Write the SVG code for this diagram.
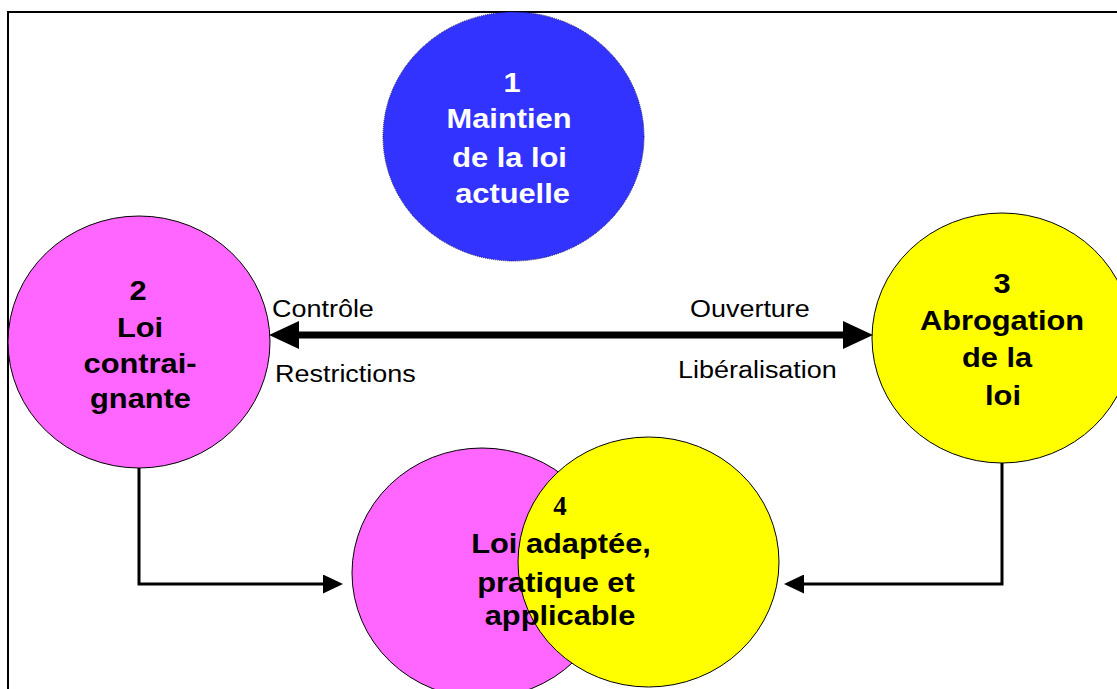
<svg xmlns="http://www.w3.org/2000/svg" width="1117" height="689" viewBox="0 0 1117 689">
<style>
.bold{font-family:"Liberation Sans",Arial,sans-serif;font-weight:bold;font-size:28px;text-anchor:middle}
.reg{font-family:"Liberation Sans",Arial,sans-serif;font-size:24.5px}
.w{fill:#ffffff}
.k{fill:#000000}
.node{stroke:#000;stroke-width:1}
</style>
<defs>
<marker id="bigHead" markerUnits="userSpaceOnUse" markerWidth="30" markerHeight="28" refX="0" refY="14" orient="auto-start-reverse" viewBox="0 0 30 28">
<path d="M0,0 L30,14 L0,28 Z" fill="#000"/>
</marker>
<marker id="smallHead" markerUnits="userSpaceOnUse" markerWidth="20" markerHeight="19" refX="0" refY="9.5" orient="auto" viewBox="0 0 20 19">
<path d="M0,0 L20,9.5 L0,19 Z" fill="#000"/>
</marker>
</defs>
<rect width="1117" height="689" fill="#ffffff"/>
<path d="M8,689 V12 H1117" fill="none" stroke="#000" stroke-width="2"/>

<g id="node1">
<ellipse cx="513.5" cy="136.5" rx="130.5" ry="124.5" fill="#3333ff" stroke="#101060" stroke-width="1" stroke-dasharray="1 1"/>
<text class="bold w" transform="translate(512,92) scale(1.1,1)">1</text>
<text class="bold w" transform="translate(509,128) scale(1.1,1)">Maintien</text>
<text class="bold w" transform="translate(509.5,167) scale(1.1,1)">de la loi</text>
<text class="bold w" transform="translate(512.5,203) scale(1.1,1)">actuelle</text>
</g>

<g id="node2">
<ellipse class="node" cx="139" cy="342" rx="131" ry="126" fill="#ff66ff"/>
<text class="bold k" transform="translate(138,300) scale(1.1,1)">2</text>
<text class="bold k" transform="translate(140,337) scale(1.1,1)">Loi</text>
<text class="bold k" transform="translate(140,373) scale(1.1,1)">contrai-</text>
<text class="bold k" transform="translate(140.5,408) scale(1.1,1)">gnante</text>
</g>

<g id="node3">
<ellipse class="node" cx="1002" cy="338" rx="130" ry="125" fill="#ffff00"/>
<text class="bold k" transform="translate(1002,293) scale(1.1,1)">3</text>
<text class="bold k" transform="translate(1002,330) scale(1.1,1)">Abrogation</text>
<text class="bold k" transform="translate(997,367) scale(1.1,1)">de la</text>
<text class="bold k" transform="translate(1003,405) scale(1.1,1)">loi</text>
</g>

<g id="node4">
<ellipse class="node" cx="482" cy="573" rx="130" ry="125" fill="#ff66ff"/>
<ellipse class="node" cx="648.5" cy="562" rx="130.5" ry="125" fill="#ffff00"/>
<text x="560" y="515" text-anchor="middle" font-family="'Liberation Serif','Times New Roman',serif" font-weight="bold" font-size="27" fill="#000">4</text>
<text class="bold k" transform="translate(561,553) scale(1.1,1)">Loi adaptée,</text>
<text class="bold k" transform="translate(556,592) scale(1.1,1)">pratique et</text>
<text class="bold k" transform="translate(560,625) scale(1.1,1)">applicable</text>
</g>

<g id="connectors">
<line x1="299" y1="335" x2="843" y2="335" stroke="#000" stroke-width="7" marker-start="url(#bigHead)" marker-end="url(#bigHead)"/>
<path d="M139,468 V584 H323" fill="none" stroke="#000" stroke-width="3" marker-end="url(#smallHead)"/>
<path d="M1002,463 V584 H804" fill="none" stroke="#000" stroke-width="3" marker-end="url(#smallHead)"/>
<text class="reg k" transform="translate(272,317) scale(1.1,1)">Contrôle</text>
<text class="reg k" transform="translate(275,382) scale(1.1,1)">Restrictions</text>
<text class="reg k" transform="translate(690,317) scale(1.1,1)">Ouverture</text>
<text class="reg k" transform="translate(678,378) scale(1.1,1)">Libéralisation</text>
</g>
</svg>
